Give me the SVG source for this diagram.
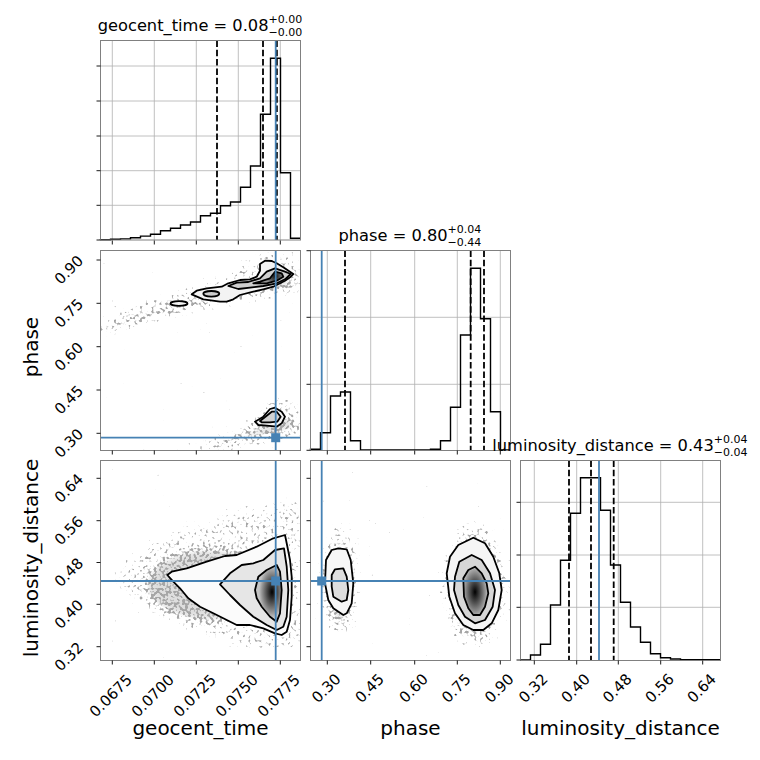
<svg xmlns="http://www.w3.org/2000/svg" width="760" height="760" viewBox="0 0 760 760">
<style>
.spine{fill:none;stroke:#808080;stroke-width:1}
.grid{stroke:#b0b0b0;stroke-width:0.8;fill:none}
.tick{stroke:#000;stroke-width:0.9;fill:none}
.hist{fill:none;stroke:#000;stroke-width:1.4;stroke-linejoin:miter}
.q{stroke:#000;stroke-width:1.8;stroke-dasharray:6.5 2.8}
.truth{stroke:#4682b4;stroke-width:1.8}
.mk{fill:#4682b4}
.ct{fill:none;stroke:#000;stroke-width:1.8;stroke-linejoin:round}
text{font-family:"DejaVu Sans","Liberation Sans",sans-serif;fill:#000}
.tl{font-size:15px}
.lab{font-size:20px}
.title{font-size:16.25px}
.ss{font-size:11px}
.cloud{fill:#000}
.thin{fill:#000;fill-opacity:0.55}
</style>
<defs>
<clipPath id="c21"><rect x="100.5" y="250.5" width="200" height="200"/></clipPath>
<clipPath id="c31"><rect x="100.5" y="460.5" width="200" height="200"/></clipPath>
<clipPath id="c32"><rect x="310.5" y="460.5" width="200" height="200"/></clipPath>
<filter id="spk" x="-40%" y="-40%" width="180%" height="180%" color-interpolation-filters="sRGB">
 <feGaussianBlur in="SourceAlpha" stdDeviation="5" result="b"/>
 <feTurbulence type="fractalNoise" baseFrequency="0.35" numOctaves="1" seed="7" result="n"/>
 <feColorMatrix in="n" type="matrix" values="0 0 0 0 0  0 0 0 0 0  0 0 0 0 0  3 0 0 0 -1.45" result="na"/>
 <feComposite in="b" in2="na" operator="arithmetic" k1="0" k2="1" k3="1" k4="-0.85" result="s"/>
 <feComponentTransfer in="s" result="d"><feFuncA type="linear" slope="2.5" intercept="0"/></feComponentTransfer>
 <feFlood flood-color="#3a3a3a" flood-opacity="0.45"/>
 <feComposite in2="d" operator="in"/>
</filter>
<radialGradient id="g31" cx="272" cy="592" r="26" gradientUnits="userSpaceOnUse" gradientTransform="translate(272 592) scale(0.5 1) translate(-272 -592)">
 <stop offset="0" stop-color="#000"/><stop offset="0.45" stop-color="#555"/><stop offset="0.8" stop-color="#999"/><stop offset="1" stop-color="#c4c4c4"/>
</radialGradient>
<radialGradient id="g32" cx="475" cy="592" r="26" gradientUnits="userSpaceOnUse" gradientTransform="translate(475 592) scale(0.5 1) translate(-475 -592)">
 <stop offset="0" stop-color="#000"/><stop offset="0.45" stop-color="#555"/><stop offset="0.8" stop-color="#999"/><stop offset="1" stop-color="#c0c0c0"/>
</radialGradient>
<radialGradient id="g21" cx="275" cy="276" r="10" gradientUnits="userSpaceOnUse">
 <stop offset="0" stop-color="#111"/><stop offset="0.6" stop-color="#666"/><stop offset="1" stop-color="#999"/>
</radialGradient>
</defs>
<rect width="760" height="760" fill="#fff"/>

<!-- Panel 1,1: geocent_time histogram -->
<g id="hist-geocent">
 <path class="grid" d="M112.3,40.5V240M154.3,40.5V240M196.3,40.5V240M238.3,40.5V240M280.3,40.5V240M100.5,66H300.5M100.5,101H300.5M100.5,136H300.5M100.5,170.7H300.5M100.5,205.3H300.5"/>
 <path class="hist" d="M100.5,240V239.7H110.5V239.3H120.5V238.9H130.5V237.7H140.5V236.1H150.5V234.3H160.5V230.7H170.5V228.3H180.5V225H190.5V222H200.5V215.7H210.5V213.3H220.5V205.7H230.5V202H240.5V187.3H250.5V166H260.5V114.3H270.5V58.3H280.5V172.7H290.5V238.3H300.5"/>
 <line class="q" x1="217" y1="40.5" x2="217" y2="240"/>
 <line class="q" x1="263" y1="40.5" x2="263" y2="240"/>
 <line class="q" x1="276.9" y1="40.5" x2="276.9" y2="240"/>
 <line class="truth" x1="275.7" y1="40.5" x2="275.7" y2="240"/>
 <rect class="spine" x="100.5" y="40.5" width="200" height="199.5"/>
 <path class="tick" d="M96.5,66h4M96.5,101h4M96.5,136h4M96.5,170.7h4M96.5,205.3h4M96.5,240h4M112.3,240.5v4M154.3,240.5v4M196.3,240.5v4M238.3,240.5v4M280.3,240.5v4"/>
 <text class="title" x="97.7" y="30.7">geocent_time = 0.08</text>
 <text class="ss" x="268.5" y="22.6">+0.00</text>
 <text class="ss" x="268.5" y="35.6">−0.00</text>
</g>

<!-- Panel 2,1: phase vs geocent_time -->
<g id="phase-vs-geocent">
 <g clip-path="url(#c21)">
  <g filter="url(#spk)">
   <path class="thin" d="M96,320L130,306L165,295L200,285L228,276L244,260L256,252L274,251L292,256L306,262L306,292L276,295L246,300L215,306L185,314L150,322L122,331L96,339Z"/>
   <path class="cloud" d="M112,324L140,314L170,306L200,297L232,289L255,281L275,277L295,276L295,289L260,293L230,299L200,305L168,313L140,321L115,330Z"/>
   <path class="thin" d="M176,452L204,442L230,433L252,420L262,402L276,396L292,400L304,410L304,436L286,442L260,443L232,449L206,455Z"/>
   <path class="cloud" d="M200,447L232,437L256,427L276,414L296,417L296,431L275,435L255,440L230,446Z"/>
  </g>
  <polygon points="191.7,294.3 196.7,290.7 206.7,288.3 221.7,286.7 228.3,283.3 240,280 250,279.3 256.7,276.7 260,270.7 260,264 265,260.7 271.7,261 276.7,263.3 283.3,267.3 293.3,274 290,277.3 285,280.7 273.3,286.7 263.3,289.3 253.3,291.7 240,295 233.3,299.3 226.7,301.7 220,301.7 203.3,299.3" fill="#f3f3f3"/>
  <polygon points="228.3,286 236.7,282.7 248.3,282 260,278.3 266.7,271.7 275,268.3 285,271.7 290.7,274 285,279.3 276.7,283.3 263.3,286 250,287.7 238.3,289" fill="#cfcfcf"/>
  <polygon points="253.3,283.3 260,281.7 270,278.3 275,271.7 281.7,273.3 283.3,276.7 276.7,280.7 266.7,283.3" fill="url(#g21)"/>
  <ellipse cx="211.3" cy="293.8" rx="8" ry="2.8" fill="#cdcdcd"/>
  <ellipse cx="179" cy="303.5" rx="8.5" ry="2.3" fill="#f3f3f3"/>
  <polygon points="255,421.7 263.3,416.7 270,409 275,407.7 281.7,411.7 285,416.7 281.7,423.3 276.7,426.7 266.7,425.7 258.3,425" fill="#f3f3f3"/>
  <polygon points="260,421 266.7,415.7 271.7,411.7 276.7,411.7 280.7,416.7 277.3,421.7 270,422.3 261.7,422.3" fill="#d2d2d2"/>
  <polygon class="ct" points="191.7,294.3 196.7,290.7 206.7,288.3 221.7,286.7 228.3,283.3 240,280 250,279.3 256.7,276.7 260,270.7 260,264 265,260.7 271.7,261 276.7,263.3 283.3,267.3 293.3,274 290,277.3 285,280.7 273.3,286.7 263.3,289.3 253.3,291.7 240,295 233.3,299.3 226.7,301.7 220,301.7 203.3,299.3"/>
  <polygon class="ct" points="228.3,286 236.7,282.7 248.3,282 260,278.3 266.7,271.7 275,268.3 285,271.7 290.7,274 285,279.3 276.7,283.3 263.3,286 250,287.7 238.3,289"/>
  <polygon class="ct" points="253.3,283.3 260,281.7 270,278.3 275,271.7 281.7,273.3 283.3,276.7 276.7,280.7 266.7,283.3"/>
  <ellipse class="ct" cx="211.3" cy="293.8" rx="8" ry="2.8"/>
  <ellipse class="ct" cx="179" cy="303.5" rx="8.5" ry="2.3"/>
  <polygon class="ct" points="255,421.7 263.3,416.7 270,409 275,407.7 281.7,411.7 285,416.7 281.7,423.3 276.7,426.7 266.7,425.7 258.3,425"/>
  <polygon class="ct" points="260,421 266.7,415.7 271.7,411.7 276.7,411.7 280.7,416.7 277.3,421.7 270,422.3 261.7,422.3"/>
  <line class="truth" x1="275.7" y1="250.5" x2="275.7" y2="450.5"/>
  <line class="truth" x1="100.5" y1="437.7" x2="300.5" y2="437.7"/>
  <rect class="mk" x="271.2" y="433.2" width="9" height="9"/>
 </g>
 <rect class="spine" x="100.5" y="250.5" width="200" height="200"/>
 <path class="tick" d="M96.5,260h4M96.5,303.3h4M96.5,346.7h4M96.5,390h4M96.5,433.3h4M112.3,450.5v4M154.3,450.5v4M196.3,450.5v4M238.3,450.5v4M280.3,450.5v4"/>
</g>

<!-- Panel 2,2: phase histogram -->
<g id="hist-phase">
 <path class="grid" d="M327.3,250.5V450.5M370.7,250.5V450.5M414.7,250.5V450.5M457.3,250.5V450.5M500.3,250.5V450.5M310.5,317.3H510.5M310.5,384.3H510.5"/>
 <path class="hist" d="M310.5,450V449.3H320.5V432.7H330.5V396H340.5V392H350.5V440.7H360.5V450H430.5V449.3H440.5V440.7H450.5V407.3H460.5V335H470.5V268.3H480.5V318.7H490.5V411.7H500.5V450H510.5"/>
 <line class="q" x1="345" y1="250.5" x2="345" y2="450.5"/>
 <line class="q" x1="470.7" y1="250.5" x2="470.7" y2="450.5"/>
 <line class="q" x1="484" y1="250.5" x2="484" y2="450.5"/>
 <line class="truth" x1="321.7" y1="250.5" x2="321.7" y2="450.5"/>
 <rect class="spine" x="310.5" y="250.5" width="200" height="200"/>
 <path class="tick" d="M306.5,250.7h4M306.5,317.3h4M306.5,384.3h4M306.5,450.3h4M327.3,450.5v4M370.7,450.5v4M414.7,450.5v4M457.3,450.5v4M500.3,450.5v4"/>
 <text class="title" x="338.5" y="240.7">phase = 0.80</text>
 <text class="ss" x="447.5" y="232.6">+0.04</text>
 <text class="ss" x="447.5" y="245.6">−0.44</text>
</g>

<!-- Panel 3,1: luminosity_distance vs geocent_time -->
<g id="lumdist-vs-geocent">
 <g clip-path="url(#c31)">
  <g filter="url(#spk)">
   <path class="thin" d="M112,575L140,550L180,530L228,514L268,504L302,498L302,648L272,652L232,644L192,630L152,610L122,594Z"/>
   <ellipse class="cloud" cx="210" cy="585" rx="66" ry="38"/>
  </g>
  <polygon points="167.3,575 171.7,571.7 186.7,568.3 206.7,561.7 225,556 236.7,555 256.7,546.7 273.3,538.3 285,535 286.7,543.3 290,560 291.7,576.7 291.7,596.7 290,620 286.7,631.7 281.7,635 275,633.3 263.3,628.3 250,625 236.7,625 223.3,618.3 213.3,613.3 200,606.7 188.3,598.3 180,588.3 173.3,581.7" fill="#fbfbfb"/>
  <polygon points="220,584.3 230,573.3 241.7,565 253.3,563.3 263.3,560 275,550 284,548.3 286.7,566.7 288.3,590 286.7,616.7 283.3,626.7 276.7,630 266.7,625 253.3,616.7 240,605 230,595" fill="#e6e6e6"/>
  <polygon points="255,590 258.3,576.7 266.7,570 276.7,565 280,571.7 281.7,590 280,613.3 276.7,621.7 270,616.7 261.7,606.7 256.7,598.3" fill="url(#g31)"/>
  <polygon class="ct" points="167.3,575 171.7,571.7 186.7,568.3 206.7,561.7 225,556 236.7,555 256.7,546.7 273.3,538.3 285,535 286.7,543.3 290,560 291.7,576.7 291.7,596.7 290,620 286.7,631.7 281.7,635 275,633.3 263.3,628.3 250,625 236.7,625 223.3,618.3 213.3,613.3 200,606.7 188.3,598.3 180,588.3 173.3,581.7"/>
  <polygon class="ct" points="220,584.3 230,573.3 241.7,565 253.3,563.3 263.3,560 275,550 284,548.3 286.7,566.7 288.3,590 286.7,616.7 283.3,626.7 276.7,630 266.7,625 253.3,616.7 240,605 230,595"/>
  <polygon class="ct" points="255,590 258.3,576.7 266.7,570 276.7,565 280,571.7 281.7,590 280,613.3 276.7,621.7 270,616.7 261.7,606.7 256.7,598.3"/>
  <line class="truth" x1="275.7" y1="460.5" x2="275.7" y2="660.5"/>
  <line class="truth" x1="100.5" y1="581" x2="300.5" y2="581"/>
  <rect class="mk" x="271.2" y="576.5" width="9" height="9"/>
 </g>
 <rect class="spine" x="100.5" y="460.5" width="200" height="200"/>
 <path class="tick" d="M96.5,478.3h4M96.5,520.7h4M96.5,562.5h4M96.5,604.3h4M96.5,646.7h4M112.3,660.5v4M154.3,660.5v4M196.3,660.5v4M238.3,660.5v4M280.3,660.5v4"/>
</g>

<!-- Panel 3,2: luminosity_distance vs phase -->
<g id="lumdist-vs-phase">
 <g clip-path="url(#c32)">
  <g filter="url(#spk)">
   <ellipse class="thin" cx="340" cy="580" rx="20" ry="58"/>
   <ellipse class="thin" cx="475" cy="585" rx="33" ry="64"/>
   <ellipse class="cloud" cx="340" cy="585" rx="14" ry="40"/>
   <ellipse class="cloud" cx="475" cy="588" rx="26" ry="48"/>
  </g>
  <polygon points="326,560 331.7,550 338.3,548.3 346.7,549.3 350.7,560 353.3,583.3 351.7,603.3 346.7,613.3 343.3,615 333.3,608.3 328.3,600 325,583.3" fill="#f7f7f7"/>
  <polygon points="331.7,575 335,569.3 343.3,568.3 346.7,576.7 348.3,590 346.7,600 341.7,601.7 333.3,596.7 331.7,586.7" fill="#dedede"/>
  <polygon points="446.7,573.3 450,556.7 458.3,545 473.3,537.7 485,543.3 493.3,556.7 499.3,573.3 501.7,590 498.3,610 491.7,623.3 483.3,630 473.3,630 463.3,625 455,613.3 449.3,596.7" fill="#f5f5f5"/>
  <polygon points="455,576.7 459.3,561.7 471.7,555 481.7,560 490,573.3 495,590 492.7,606.7 485,620 475,623.3 465,616.7 458.3,605 454,590" fill="#d6d6d6"/>
  <polygon points="463.3,578.3 468.3,570 475,566.7 481.7,573.3 486.7,583.3 488.3,593.3 485,606.7 480,615 473.3,615 468.3,608.3 464,596.7" fill="url(#g32)"/>
  <polygon class="ct" points="326,560 331.7,550 338.3,548.3 346.7,549.3 350.7,560 353.3,583.3 351.7,603.3 346.7,613.3 343.3,615 333.3,608.3 328.3,600 325,583.3"/>
  <polygon class="ct" points="331.7,575 335,569.3 343.3,568.3 346.7,576.7 348.3,590 346.7,600 341.7,601.7 333.3,596.7 331.7,586.7"/>
  <polygon class="ct" points="446.7,573.3 450,556.7 458.3,545 473.3,537.7 485,543.3 493.3,556.7 499.3,573.3 501.7,590 498.3,610 491.7,623.3 483.3,630 473.3,630 463.3,625 455,613.3 449.3,596.7"/>
  <polygon class="ct" points="455,576.7 459.3,561.7 471.7,555 481.7,560 490,573.3 495,590 492.7,606.7 485,620 475,623.3 465,616.7 458.3,605 454,590"/>
  <polygon class="ct" points="463.3,578.3 468.3,570 475,566.7 481.7,573.3 486.7,583.3 488.3,593.3 485,606.7 480,615 473.3,615 468.3,608.3 464,596.7"/>
  <line class="truth" x1="321.7" y1="460.5" x2="321.7" y2="660.5"/>
  <line class="truth" x1="310.5" y1="581" x2="510.5" y2="581"/>
  <rect class="mk" x="317.2" y="576.5" width="9" height="9"/>
 </g>
 <rect class="spine" x="310.5" y="460.5" width="200" height="200"/>
 <path class="tick" d="M306.5,478.3h4M306.5,520.7h4M306.5,562.5h4M306.5,604.3h4M306.5,646.7h4M327.3,660.5v4M370.7,660.5v4M414.7,660.5v4M457.3,660.5v4M500.3,660.5v4"/>
</g>

<!-- Panel 3,3: luminosity_distance histogram -->
<g id="hist-lumdist">
 <path class="grid" d="M534.3,460.5V660.5M576.7,460.5V660.5M618.3,460.5V660.5M660.7,460.5V660.5M702.7,460.5V660.5M520.5,502.3H720.5M520.5,555H720.5M520.5,607.3H720.5"/>
 <path class="hist" d="M520.5,660H530.5V655H540.5V644.3H550.5V605H560.5V560.3H570.5V513.3H580.5V477.7H600.5V510.3H610.5V565H620.5V602.3H630.5V627H640.5V642.3H650.5V653.7H660.5V657.7H670.5V659H680.5V659.7H720.5"/>
 <line class="q" x1="569" y1="460.5" x2="569" y2="660.5"/>
 <line class="q" x1="591" y1="460.5" x2="591" y2="660.5"/>
 <line class="q" x1="613.7" y1="460.5" x2="613.7" y2="660.5"/>
 <line class="truth" x1="599" y1="460.5" x2="599" y2="660.5"/>
 <rect class="spine" x="520.5" y="460.5" width="200" height="200"/>
 <path class="tick" d="M516.5,502.3h4M516.5,555h4M516.5,607.3h4M516.5,660h4M534.3,660.5v4M576.7,660.5v4M618.3,660.5v4M660.7,660.5v4M702.7,660.5v4"/>
 <text class="title" x="492.3" y="450.7">luminosity_distance = 0.43</text>
 <text class="ss" x="713.8" y="442.6">+0.04</text>
 <text class="ss" x="713.8" y="455.6">−0.04</text>
</g>

<!-- Tick labels -->
<g id="xtick-labels" class="tl" text-anchor="middle" dominant-baseline="central">
 <text x="110.8" y="695.8" transform="rotate(-45 110.8 695.8)">0.0675</text>
 <text x="152.8" y="695.8" transform="rotate(-45 152.8 695.8)">0.0700</text>
 <text x="194.8" y="695.8" transform="rotate(-45 194.8 695.8)">0.0725</text>
 <text x="236.8" y="695.8" transform="rotate(-45 236.8 695.8)">0.0750</text>
 <text x="278.8" y="695.8" transform="rotate(-45 278.8 695.8)">0.0775</text>
 <text x="326.3" y="688.3" transform="rotate(-45 326.3 688.3)">0.30</text>
 <text x="369.7" y="688.3" transform="rotate(-45 369.7 688.3)">0.45</text>
 <text x="413.7" y="688.3" transform="rotate(-45 413.7 688.3)">0.60</text>
 <text x="456.3" y="688.3" transform="rotate(-45 456.3 688.3)">0.75</text>
 <text x="499.3" y="688.3" transform="rotate(-45 499.3 688.3)">0.90</text>
 <text x="533.3" y="688.3" transform="rotate(-45 533.3 688.3)">0.32</text>
 <text x="575.7" y="688.3" transform="rotate(-45 575.7 688.3)">0.40</text>
 <text x="617.3" y="688.3" transform="rotate(-45 617.3 688.3)">0.48</text>
 <text x="659.7" y="688.3" transform="rotate(-45 659.7 688.3)">0.56</text>
 <text x="701.7" y="688.3" transform="rotate(-45 701.7 688.3)">0.64</text>
</g>
<g id="ytick-labels" class="tl" text-anchor="middle" dominant-baseline="central">
 <text x="69" y="270" transform="rotate(-45 69 270)">0.90</text>
 <text x="69" y="313.3" transform="rotate(-45 69 313.3)">0.75</text>
 <text x="69" y="356.7" transform="rotate(-45 69 356.7)">0.60</text>
 <text x="69" y="400" transform="rotate(-45 69 400)">0.45</text>
 <text x="69" y="443.3" transform="rotate(-45 69 443.3)">0.30</text>
 <text x="69" y="488.3" transform="rotate(-45 69 488.3)">0.64</text>
 <text x="69" y="530.7" transform="rotate(-45 69 530.7)">0.56</text>
 <text x="69" y="572.5" transform="rotate(-45 69 572.5)">0.48</text>
 <text x="69" y="614.3" transform="rotate(-45 69 614.3)">0.40</text>
 <text x="69" y="656.7" transform="rotate(-45 69 656.7)">0.32</text>
</g>

<!-- Axis labels -->
<g id="axis-labels" class="lab" text-anchor="middle">
 <text x="200.5" y="735">geocent_time</text>
 <text x="410.5" y="735">phase</text>
 <text x="620.5" y="735">luminosity_distance</text>
 <text x="38" y="347" transform="rotate(-90 38 347)">phase</text>
 <text x="38" y="558" transform="rotate(-90 38 558)">luminosity_distance</text>
</g>
</svg>
